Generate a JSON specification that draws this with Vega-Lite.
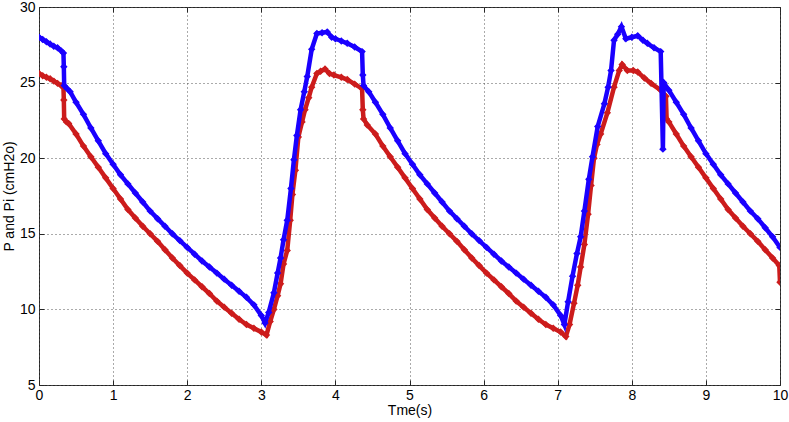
{
  "$schema": "https://vega.github.io/schema/vega-lite/v6.json",
  "width": 741,
  "height": 378,
  "autosize": "none",
  "padding": {"left": 39, "top": 7, "right": 9, "bottom": 37},
  "background": "white",
  "config": {
    "view": {"stroke": "#262626", "strokeWidth": 1},
    "axis": {
      "labelFont": "Liberation Sans",
      "titleFont": "Liberation Sans",
      "labelColor": "black",
      "titleColor": "black",
      "labelFontSize": 14,
      "titleFontSize": 14,
      "titleFontWeight": "normal",
      "tickColor": "#262626",
      "domain": false,
      "labelFlush": false,
      "labelOverlap": false
    }
  },
  "datasets": {
    "P": [
      {"t":0.00,"v":28.0},{"t":0.05,"v":27.85},{"t":0.10,"v":27.7},{"t":0.15,"v":27.55},{"t":0.20,"v":27.4},{"t":0.25,"v":27.3},{"t":0.30,"v":27.1},{"t":0.33,"v":26.95},{"t":0.335,"v":26.05},{"t":0.34,"v":24.8},{"t":0.38,"v":24.6},{"t":0.42,"v":24.4},
      {"t":0.50,"v":23.7},{"t":0.60,"v":22.9},{"t":0.70,"v":22.0},{"t":0.80,"v":21.15},{"t":0.90,"v":20.3},{"t":1.00,"v":19.6},{"t":1.10,"v":18.9},{"t":1.20,"v":18.3},{"t":1.30,"v":17.7},{"t":1.40,"v":17.1},{"t":1.50,"v":16.5},{"t":1.60,"v":16.0},{"t":1.70,"v":15.5},{"t":1.80,"v":15.0},{"t":1.90,"v":14.55},{"t":2.00,"v":14.1},{"t":2.10,"v":13.65},{"t":2.20,"v":13.2},{"t":2.30,"v":12.8},{"t":2.40,"v":12.4},{"t":2.50,"v":12.0},{"t":2.60,"v":11.6},{"t":2.70,"v":11.2},{"t":2.80,"v":10.8},{"t":2.90,"v":10.3},{"t":3.00,"v":9.6},{"t":3.05,"v":9.1},
      {"t":3.10,"v":9.8},{"t":3.17,"v":11.1},{"t":3.22,"v":12.4},{"t":3.26,"v":13.4},{"t":3.30,"v":14.6},{"t":3.35,"v":15.9},{"t":3.40,"v":18.0},{"t":3.44,"v":19.9},{"t":3.48,"v":21.5},{"t":3.53,"v":23.2},{"t":3.58,"v":24.4},{"t":3.62,"v":25.4},{"t":3.68,"v":27.2},{"t":3.75,"v":28.25},{"t":3.82,"v":28.3},{"t":3.89,"v":28.35},{"t":3.95,"v":28.0},{"t":4.00,"v":27.9},{"t":4.08,"v":27.75},{"t":4.16,"v":27.6},{"t":4.26,"v":27.35},{"t":4.36,"v":27.05},{"t":4.37,"v":25.5},{"t":4.38,"v":24.8},{"t":4.45,"v":24.4},
      {"t":4.54,"v":23.7},{"t":4.64,"v":22.9},{"t":4.74,"v":22.0},{"t":4.84,"v":21.15},{"t":4.94,"v":20.3},{"t":5.04,"v":19.6},{"t":5.14,"v":18.9},{"t":5.24,"v":18.3},{"t":5.34,"v":17.7},{"t":5.44,"v":17.1},{"t":5.54,"v":16.5},{"t":5.64,"v":16.0},{"t":5.74,"v":15.5},{"t":5.84,"v":15.0},{"t":5.94,"v":14.55},{"t":6.04,"v":14.1},{"t":6.14,"v":13.65},{"t":6.24,"v":13.2},{"t":6.34,"v":12.8},{"t":6.44,"v":12.4},{"t":6.54,"v":12.0},{"t":6.64,"v":11.6},{"t":6.74,"v":11.2},{"t":6.84,"v":10.8},{"t":6.94,"v":10.3},{"t":7.04,"v":9.6},{"t":7.09,"v":9.0},
      {"t":7.14,"v":10.5},{"t":7.20,"v":12.2},{"t":7.26,"v":13.7},{"t":7.31,"v":14.8},{"t":7.36,"v":16.5},{"t":7.42,"v":18.6},{"t":7.47,"v":20.1},{"t":7.54,"v":22.1},{"t":7.63,"v":23.6},{"t":7.68,"v":24.7},{"t":7.72,"v":25.8},{"t":7.76,"v":27.8},{"t":7.81,"v":28.2},{"t":7.86,"v":28.7},{"t":7.92,"v":27.9},{"t":8.00,"v":28.0},{"t":8.08,"v":28.1},{"t":8.15,"v":27.8},{"t":8.21,"v":27.6},{"t":8.30,"v":27.3},{"t":8.39,"v":27.05},{"t":8.42,"v":20.6},{"t":8.43,"v":25.0},{"t":8.50,"v":24.5},
      {"t":8.60,"v":23.7},{"t":8.70,"v":22.9},{"t":8.80,"v":22.0},{"t":8.90,"v":21.15},{"t":9.00,"v":20.3},{"t":9.10,"v":19.6},{"t":9.20,"v":18.9},{"t":9.30,"v":18.3},{"t":9.40,"v":17.7},{"t":9.50,"v":17.1},{"t":9.60,"v":16.5},{"t":9.70,"v":16.0},{"t":9.80,"v":15.4},{"t":9.90,"v":14.8},{"t":10.00,"v":14.1}
    ],
    "Pi": [
      {"t":0.00,"v":25.6},{"t":0.05,"v":25.45},{"t":0.10,"v":25.35},{"t":0.15,"v":25.25},{"t":0.20,"v":25.1},{"t":0.25,"v":24.95},{"t":0.30,"v":24.8},{"t":0.33,"v":24.7},{"t":0.335,"v":23.85},{"t":0.34,"v":22.6},{"t":0.37,"v":22.4},{"t":0.40,"v":22.3},
      {"t":0.50,"v":21.6},{"t":0.60,"v":20.8},{"t":0.70,"v":20.1},{"t":0.80,"v":19.4},{"t":0.90,"v":18.7},{"t":1.00,"v":18.0},{"t":1.10,"v":17.3},{"t":1.20,"v":16.6},{"t":1.30,"v":16.05},{"t":1.40,"v":15.5},{"t":1.50,"v":15.0},{"t":1.60,"v":14.5},{"t":1.70,"v":13.95},{"t":1.80,"v":13.4},{"t":1.90,"v":12.9},{"t":2.00,"v":12.4},{"t":2.10,"v":11.95},{"t":2.20,"v":11.5},{"t":2.30,"v":11.05},{"t":2.40,"v":10.55},{"t":2.50,"v":10.15},{"t":2.60,"v":9.75},{"t":2.70,"v":9.35},{"t":2.80,"v":9.0},{"t":2.90,"v":8.75},{"t":3.00,"v":8.5},{"t":3.07,"v":8.3},
      {"t":3.12,"v":9.2},{"t":3.17,"v":10.0},{"t":3.22,"v":10.9},{"t":3.26,"v":11.7},{"t":3.30,"v":13.0},{"t":3.35,"v":13.9},{"t":3.39,"v":15.9},{"t":3.42,"v":17.6},{"t":3.46,"v":19.2},{"t":3.50,"v":21.4},{"t":3.55,"v":22.4},{"t":3.59,"v":23.2},{"t":3.64,"v":24.0},{"t":3.68,"v":24.7},{"t":3.75,"v":25.6},{"t":3.80,"v":25.75},{"t":3.86,"v":25.9},{"t":3.92,"v":25.6},{"t":3.98,"v":25.5},{"t":4.08,"v":25.35},{"t":4.16,"v":25.2},{"t":4.26,"v":24.9},{"t":4.36,"v":24.6},{"t":4.37,"v":23.2},{"t":4.38,"v":22.6},{"t":4.43,"v":22.2},
      {"t":4.54,"v":21.6},{"t":4.64,"v":20.8},{"t":4.74,"v":20.1},{"t":4.84,"v":19.4},{"t":4.94,"v":18.7},{"t":5.04,"v":18.0},{"t":5.14,"v":17.3},{"t":5.24,"v":16.6},{"t":5.34,"v":16.05},{"t":5.44,"v":15.5},{"t":5.54,"v":15.0},{"t":5.64,"v":14.5},{"t":5.74,"v":13.95},{"t":5.84,"v":13.4},{"t":5.94,"v":12.9},{"t":6.04,"v":12.4},{"t":6.14,"v":11.95},{"t":6.24,"v":11.5},{"t":6.34,"v":11.05},{"t":6.44,"v":10.55},{"t":6.54,"v":10.15},{"t":6.64,"v":9.75},{"t":6.74,"v":9.35},{"t":6.84,"v":9.0},{"t":6.94,"v":8.75},{"t":7.04,"v":8.5},{"t":7.11,"v":8.2},
      {"t":7.16,"v":9.0},{"t":7.22,"v":10.4},{"t":7.27,"v":11.6},{"t":7.31,"v":12.8},{"t":7.36,"v":14.3},{"t":7.41,"v":16.3},{"t":7.45,"v":18.2},{"t":7.49,"v":20.0},{"t":7.53,"v":20.9},{"t":7.58,"v":21.6},{"t":7.67,"v":23.0},{"t":7.76,"v":24.7},{"t":7.83,"v":25.8},{"t":7.87,"v":26.2},{"t":7.94,"v":25.8},{"t":8.02,"v":25.8},{"t":8.08,"v":25.7},{"t":8.17,"v":25.3},{"t":8.26,"v":24.95},{"t":8.39,"v":24.5},{"t":8.46,"v":24.1},{"t":8.47,"v":22.6},{"t":8.50,"v":22.4},
      {"t":8.60,"v":21.6},{"t":8.70,"v":20.8},{"t":8.80,"v":20.1},{"t":8.90,"v":19.4},{"t":9.00,"v":18.7},{"t":9.10,"v":18.0},{"t":9.20,"v":17.3},{"t":9.30,"v":16.6},{"t":9.40,"v":16.05},{"t":9.50,"v":15.5},{"t":9.60,"v":15.0},{"t":9.70,"v":14.5},{"t":9.80,"v":13.95},{"t":9.90,"v":13.4},{"t":9.99,"v":12.9},{"t":10.00,"v":11.8}
    ]
  },
  "layer": [
    {
      "data": {"name": "Pi"},
      "mark": {"type": "line", "color": "#cc1c1c", "strokeWidth": 4.5, "clip": true, "point": {"shape": "diamond", "filled": true, "size": 55, "color": "#cc1c1c"}},
      "encoding": {
        "x": {"field": "t", "type": "quantitative", "scale": {"domain": [0, 10], "nice": false},
              "axis": {"orient": "bottom", "values": [0,1,2,3,4,5,6,7,8,9,10], "title": "Tme(s)", "tickSize": -5, "labelPadding": 8, "titlePadding": 1,
                       "grid": true, "gridDash": [1, 3], "gridColor": "#555555", "gridWidth": 1}},
        "y": {"field": "v", "type": "quantitative", "scale": {"domain": [5, 30], "nice": false},
              "axis": {"orient": "left", "values": [5,10,15,20,25,30], "title": "P and Pi (cmH2o)", "tickSize": -5, "labelPadding": 9, "titlePadding": 3,
                       "grid": true, "gridDash": [1, 3], "gridColor": "#555555", "gridWidth": 1}}
      }
    },
    {
      "data": {"name": "P"},
      "mark": {"type": "line", "color": "#1a00ff", "strokeWidth": 4.5, "clip": true, "point": {"shape": "diamond", "filled": true, "size": 55, "color": "#1a00ff"}},
      "encoding": {
        "x": {"field": "t", "type": "quantitative",
              "axis": {"orient": "top", "values": [0,1,2,3,4,5,6,7,8,9,10], "title": null, "labels": false, "tickSize": -5, "grid": false}},
        "y": {"field": "v", "type": "quantitative",
              "axis": {"orient": "right", "values": [5,10,15,20,25,30], "title": null, "labels": false, "tickSize": -5, "grid": false}}
      }
    }
  ],
  "resolve": {"axis": {"x": "independent", "y": "independent"}}
}
